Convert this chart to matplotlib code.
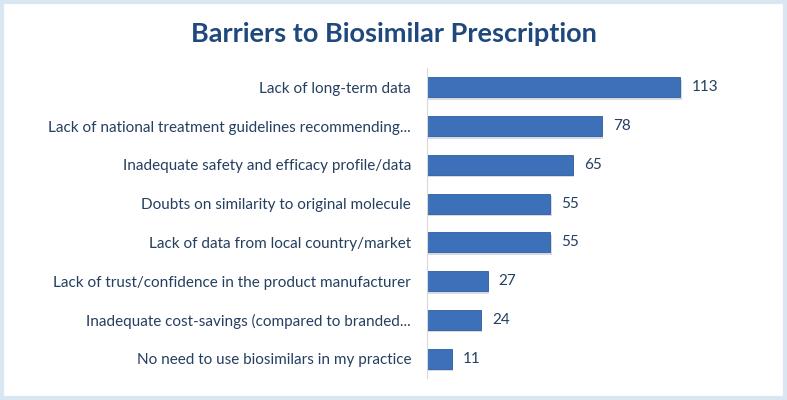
import matplotlib
matplotlib.use("Agg")
import matplotlib.pyplot as plt
from matplotlib.patches import Rectangle

plt.rcParams['font.family'] = ['Lato', 'DejaVu Sans']

# Data (top to bottom as shown)
categories = [
    "Lack of long-term data",
    "Lack of national treatment guidelines recommending...",
    "Inadequate safety and efficacy profile/data",
    "Doubts on similarity to original molecule",
    "Lack of data from local country/market",
    "Lack of trust/confidence in the product manufacturer",
    "Inadequate cost-savings (compared to branded...",
    "No need to use biosimilars in my practice",
]
counts = [113, 78, 65, 55, 55, 27, 24, 11]

text_color = '#243f60'
bar_color = '#3c70b8'

fig = plt.figure(figsize=(7.87, 4.0), dpi=100)
ax = fig.add_axes([0.5426, 0.055, 0.427, 0.775])

ypos = list(range(len(categories)))
# shadow bars
ax.barh([y + 0.06 for y in ypos], counts, height=0.52, left=0.6,
        color='#b0b8c4', alpha=0.5, zorder=1)
bars = ax.barh(ypos, counts, height=0.52, color=bar_color,
               edgecolor='#2f5d9e', linewidth=0.6, zorder=2)

for y, v in zip(ypos, counts):
    ax.text(v + 5, y, str(v), va='center', ha='left', fontsize=11,
            color=text_color)

ax.set_yticks(ypos)
ax.set_yticklabels(categories, fontsize=11, color=text_color)
ax.tick_params(axis='y', length=0, pad=11.5)
ax.set_xticks([])
ax.set_xlim(0, 150)
ax.set_ylim(len(categories) - 0.5, -0.5)

for s in ['top', 'right', 'bottom']:
    ax.spines[s].set_visible(False)
ax.spines['left'].set_color('#d9d9d9')

fig.text(0.5, 0.915, "Barriers to Biosimilar Prescription", ha='center',
         va='center', fontsize=19.5, fontweight='bold', color='#1f497d')

# light blue frame around the chart
fig.patches.append(Rectangle((0.002, 0.004), 0.996, 0.992,
                             transform=fig.transFigure, fill=False,
                             edgecolor='#dbe6f3', linewidth=3))

fig.savefig("out.png", dpi=100)
